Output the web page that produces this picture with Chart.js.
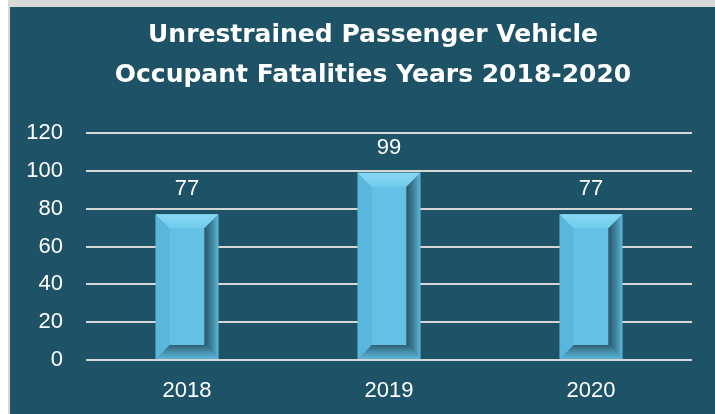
<!DOCTYPE html>
<html>
<head>
<meta charset="utf-8">
<script src="https://cdn.jsdelivr.net/npm/chart.js@4/dist/chart.umd.min.js"></script>
<style>
    html, body { margin: 0; padding: 0; background: #ffffff; }
    #frame {
        position: absolute; left: 0; top: 0; width: 715px; height: 414px;
        background: #ffffff;
    }
    #topstrip { position: absolute; left: 8px; top: 0; width: 707px; height: 7px; background: #d9d9d9; }
    #leftline { position: absolute; left: 8px; top: 0; width: 2px; height: 414px; background: #d9d9d9; }
    #panel {
        position: absolute; left: 10px; top: 7px; width: 705px; height: 407px;
        background: #1e5266;
    }
</style>
</head>
<body>
<div id="frame">
    <div id="topstrip"></div>
    <div id="leftline"></div>
    <div id="panel"><canvas id="fatalities-chart" width="705" height="407"></canvas></div>
</div>
<script>
const years = ['2018', '2019', '2020'];
const fatalities = [77, 99, 77];
const yTicks = [0, 20, 40, 60, 80, 100, 120];
const chartTitle = ['Unrestrained Passenger Vehicle', 'Occupant Fatalities Years 2018-2020'];

// nudge the title so it sits centred like the original slide
const titleShift = {
    id: 'titleShift',
    afterLayout(chart) {
        if (chart.titleBlock) {
            chart.titleBlock.left += 22;
            chart.titleBlock.right += 22;
        }
    }
};

const bevelBars = {
    id: 'bevelBars',
    afterDatasetsDraw(chart) {
        const ctx = chart.ctx;
        const meta = chart.getDatasetMeta(0);
        meta.data.forEach((bar, i) => {
            const half = bar.width / 2;
            const l = bar.x - half, r = bar.x + half;
            const t = bar.y, b = bar.base;
            const d = 14;
            ctx.save();
            // face
            ctx.fillStyle = '#64c1e5';
            ctx.fillRect(l, t, r - l, b - t);
            // left bevel
            ctx.fillStyle = '#59b7dd';
            ctx.beginPath();
            ctx.moveTo(l, t); ctx.lineTo(l + d, t + d); ctx.lineTo(l + d, b - d); ctx.lineTo(l, b);
            ctx.closePath(); ctx.fill();
            // top bevel
            let g = ctx.createLinearGradient(0, t, 0, t + d);
            g.addColorStop(0, '#8ad8f3');
            g.addColorStop(1, '#70cbec');
            ctx.fillStyle = g;
            ctx.beginPath();
            ctx.moveTo(l, t); ctx.lineTo(r, t); ctx.lineTo(r - d, t + d); ctx.lineTo(l + d, t + d);
            ctx.closePath(); ctx.fill();
            // right bevel
            g = ctx.createLinearGradient(r - d, 0, r, 0);
            g.addColorStop(0, '#2a5668');
            g.addColorStop(0.5, '#3d7f98');
            g.addColorStop(1, '#5cb6da');
            ctx.fillStyle = g;
            ctx.beginPath();
            ctx.moveTo(r, t); ctx.lineTo(r, b); ctx.lineTo(r - d, b - d); ctx.lineTo(r - d, t + d);
            ctx.closePath(); ctx.fill();
            // bottom bevel
            g = ctx.createLinearGradient(0, b - d, 0, b);
            g.addColorStop(0, '#2f5f72');
            g.addColorStop(0.5, '#4790ad');
            g.addColorStop(1, '#5ab4d8');
            ctx.fillStyle = g;
            ctx.beginPath();
            ctx.moveTo(l, b); ctx.lineTo(r, b); ctx.lineTo(r - d, b - d); ctx.lineTo(l + d, b - d);
            ctx.closePath(); ctx.fill();

            // value label
            ctx.fillStyle = '#ffffff';
            ctx.font = '22px "Liberation Sans"';
            ctx.textAlign = 'center';
            ctx.textBaseline = 'middle';
            ctx.fillText(String(fatalities[i]), bar.x, t - 25);
            ctx.restore();
        });
    }
};

const canvas = document.getElementById('fatalities-chart');
new Chart(canvas, {
    type: 'bar',
    data: {
        labels: years,
        datasets: [{
            label: 'Fatalities',
            data: fatalities,
            backgroundColor: 'rgba(0,0,0,0)',
            borderWidth: 0,
            barPercentage: 0.31,
            categoryPercentage: 1.0
        }]
    },
    options: {
        responsive: false,
        animation: false,
        events: [],
        layout: { padding: { left: 0, right: 23, top: 0, bottom: 0 } },
        scales: {
            y: {
                min: 0,
                max: 120,
                afterBuildTicks: scale => { scale.ticks = yTicks.map(v => ({ value: v })); },
                afterFit: scale => { scale.width = 76; },
                border: { display: false },
                grid: { color: '#d6d6d6', lineWidth: 2, drawTicks: false },
                ticks: {
                    color: '#ffffff',
                    padding: 23,
                    font: { family: 'Liberation Sans', size: 22 }
                }
            },
            x: {
                afterFit: scale => { scale.height = 54; },
                border: { display: false },
                grid: { display: false },
                ticks: {
                    color: '#ffffff',
                    padding: 10,
                    font: { family: 'Liberation Sans', size: 22 }
                }
            }
        },
        plugins: {
            legend: { display: false },
            tooltip: { enabled: false },
            title: {
                display: true,
                text: chartTitle,
                color: '#ffffff',
                font: { family: 'DejaVu Sans', size: 25, weight: 'bold', lineHeight: 1.6 },
                padding: { top: 8, bottom: 38 }
            }
        }
    },
    plugins: [titleShift, bevelBars]
});
</script>
</body>
</html>
